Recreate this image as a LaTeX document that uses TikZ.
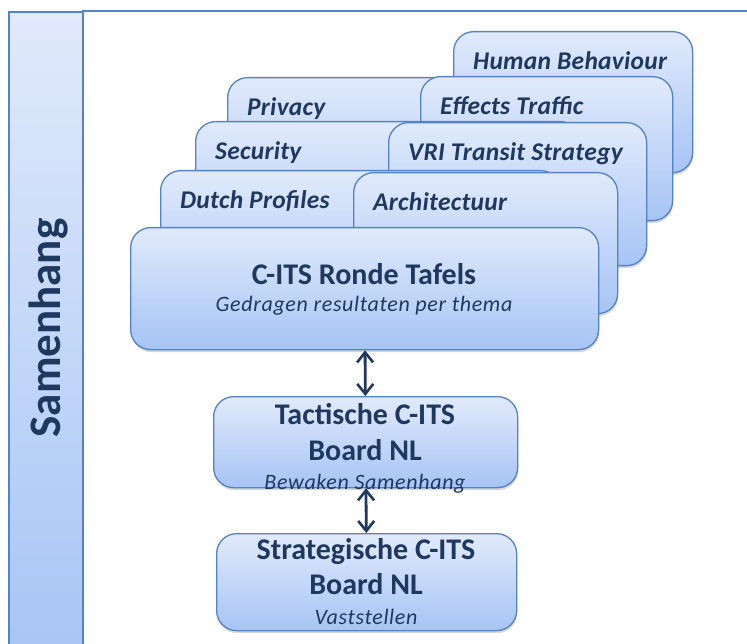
\documentclass[tikz,border=0pt]{standalone}
\usepackage{fontspec}
\setmainfont{Carlito}
\usetikzlibrary{arrows.meta,shadows}
\definecolor{txt}{RGB}{31,56,96}
\definecolor{edge}{RGB}{84,130,196}
\definecolor{ctop}{RGB}{225,234,251}
\definecolor{cbot}{RGB}{166,196,245}
\tikzset{
  card/.style={draw=edge, line width=1.3pt, rounded corners=20pt,
    top color=ctop, bottom color=cbot,
    drop shadow={shadow xshift=0.5pt, shadow yshift=-2.5pt, opacity=0.22, fill=black!70},
    anchor=north west, inner sep=0pt},
  cardlabel/.style={anchor=base west, text=txt, inner sep=0pt,
    font=\fontsize{25.5}{28}\selectfont\bfseries\itshape\addfontfeatures{LetterSpace=1}},
  title/.style={anchor=base, text=txt, inner sep=0pt,
    font=\fontsize{30}{34}\selectfont\bfseries},
  sub/.style={anchor=base, text=txt, inner sep=0pt,
    font=\fontsize{22}{26}\selectfont\itshape\addfontfeatures{LetterSpace=3}},
  link/.style={draw=txt, line width=2.8pt,
    {Straight Barb[length=10pt,width=16pt,line width=2.6pt]}-{Straight Barb[length=10pt,width=16pt,line width=2.6pt]}}
}
\newcommand\cardbox[6]{%
  \node[card, minimum width={#4-#2}, minimum height={#5-#3}] (#1) at (#2,#3) {};
  \node[cardlabel] (#1-t) at ([xshift=20pt,yshift=-38.5pt]#1.north west) {#6};
}
\begin{document}
\begin{tikzpicture}[x=1pt,y=-1pt]
\useasboundingbox (0,0) rectangle (747,644);
% left bar and frame
\path[top color=ctop, bottom color=cbot] (9,12) rectangle (83,670);
\draw[edge, line width=1.6pt] (9,670) -- (9,12) -- (83,12);
\draw[edge, line width=2pt] (83,670) -- (83,11) -- (760,11);
\node[rotate=90, text=txt, inner sep=0pt, font=\fontsize{45}{50}\selectfont\bfseries] (sam) at (49,328) {Samenhang};
% stacked cards, back to front
\cardbox{hb}{453}{31}{692}{172}{Human Behaviour}
\cardbox{priv}{227}{77}{600}{220}{Privacy}
\cardbox{eff}{420}{76}{672}{220}{Effects Traffic}
\cardbox{sec}{195}{121}{580}{265}{Security}
\cardbox{vri}{388}{122}{646}{265}{VRI Transit Strategy}
\cardbox{dutch}{160}{170}{560}{313}{Dutch Profiles}
\cardbox{arch}{353}{172}{617}{313}{Architectuur}
% main boxes
\node[card, minimum width=468, minimum height=122] (rt) at (130,227) {};
\node[title] (rt-t) at (364,285) {C-ITS Ronde Tafels};
\node[sub] (rt-s) at (364,312) {Gedragen resultaten per thema};
\node[card, minimum width=304, minimum height=91] (tac) at (213,396) {};
\node[title] (tac-t1) at (365,424) {Tactische C-ITS};
\node[title] (tac-t2) at (365,460) {Board NL};
\node[sub] (tac-s) at (365,489) {Bewaken Samenhang};
\node[card, minimum width=300, minimum height=97] (str) at (216,533) {};
\node[title] (str-t1) at (366,559) {Strategische C-ITS};
\node[title] (str-t2) at (366,594) {Board NL};
\node[sub] (str-s) at (366,624) {Vaststellen};
% connectors
\draw[link] (rt) -- (tac);
\draw[link] (tac) -- (str);
\end{tikzpicture}
\end{document}
